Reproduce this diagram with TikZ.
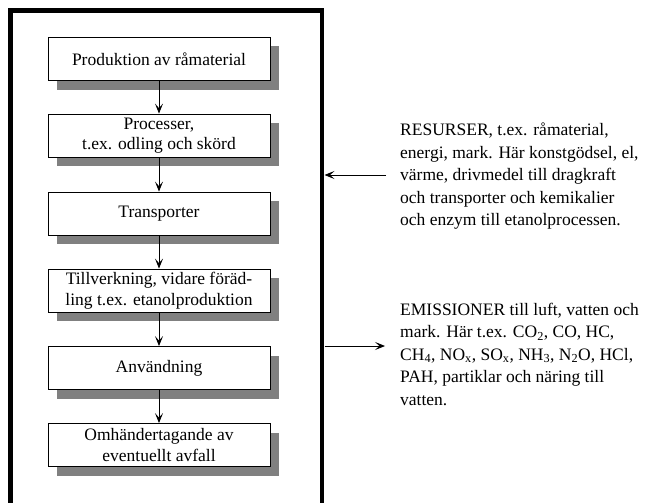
\documentclass[tikz,border=0pt]{standalone}
\usepackage{fontspec}
\setmainfont{Liberation Serif}
\usetikzlibrary{arrows.meta,shadows}
\begin{document}
\begin{tikzpicture}[x=1pt,y=-1pt,
  stepbox/.style={draw=black, line width=0.8pt, fill=white,
    minimum width=222pt, minimum height=43pt, inner sep=2pt, align=center,
    font=\fontsize{17.5}{20.5}\selectfont,
    drop shadow={shadow xshift=9pt, shadow yshift=-9pt, fill=black!50, opacity=1}},
  flow/.style={draw=black, line width=0.9pt, -{Stealth[length=10pt,width=8pt,inset=4.5pt]}},
  note/.style={anchor=north west, inner sep=0pt, align=left,
    font=\fontsize{17.5}{22.5}\selectfont},
  frame/.style={draw=black, line width=4.5pt}
]
\useasboundingbox (0,0) rectangle (648,503);

% system boundary, open at the bottom
\draw[frame] (10.5,510) -- (10.5,10.5) -- (322,10.5) -- (322,510);

% life-cycle steps
\node[stepbox] (s1) at (159,59)    {Produktion av råmaterial};
\node[stepbox] (s2) at (159,135.5) {Processer,\\t.ex. odling och skörd};
\node[stepbox] (s3) at (159,213.5) {Transporter};
\node[stepbox] (s4) at (159,290.5) {Tillverkning, vidare föräd-\\ling t.ex. etanolproduktion};
\node[stepbox] (s5) at (159,368)   {Användning};
\node[stepbox] (s6) at (159,445)   {Omhändertagande av\\eventuellt avfall};

\draw[flow] (s1) -- (s2);
\draw[flow] (s2) -- (s3);
\draw[flow] (s3) -- (s4);
\draw[flow] (s4) -- (s5);
\draw[flow] (s5) -- (s6);

% inputs and outputs across the boundary
\coordinate (resin)  at (386,175);
\coordinate (resend) at (324.5,175);
\coordinate (emstart) at (324.5,346);
\coordinate (emout)  at (385,346);
\draw[flow] (resin) -- (resend);
\draw[flow] (emstart) -- (emout);

\node[note] (res) at (400,123) {RESURSER, t.ex. råmaterial,\\energi, mark. Här konstgödsel, el,\\värme, drivmedel till dragkraft\\och transporter och kemikalier\\och enzym till etanolprocessen.};
\node[note] (em) at (400,302.5) {EMISSIONER till luft, vatten och\\mark. Här t.ex. CO\textsubscript{2}, CO, HC,\\CH\textsubscript{4}, NO\textsubscript{x}, SO\textsubscript{x}, NH\textsubscript{3}, N\textsubscript{2}O, HCl,\\PAH, partiklar och näring till\\vatten.};
\end{tikzpicture}
\end{document}
